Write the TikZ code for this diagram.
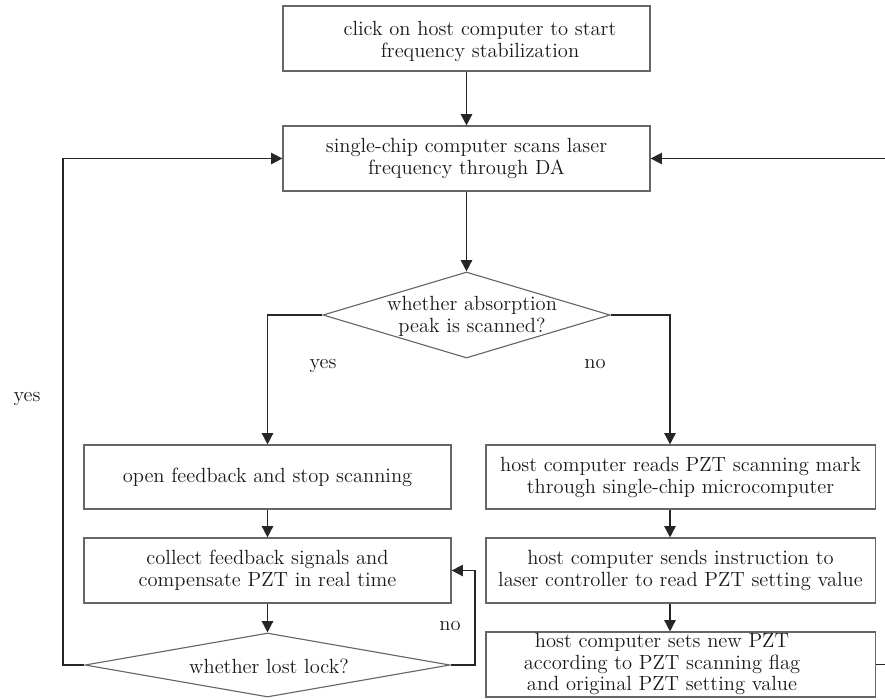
\documentclass[tikz,border=0pt]{standalone}
\usepackage{tikz}
\usetikzlibrary{shapes.geometric,arrows.meta}
\begin{document}
\begin{tikzpicture}[x=0.025cm,y=-0.025cm,
  font=\fontsize{14.6}{15.6}\selectfont,
  >={Triangle[length=8pt,width=8pt]},
  box/.style={draw=black!60,line width=0.8pt,rectangle,inner sep=0pt,align=center,text=black!90},
  decision/.style={draw=black!60,line width=0.8pt,diamond,inner sep=0pt},
  txt/.style={align=center,text=black!90,inner sep=0pt},
  line/.style={draw=black!85,line width=1.1pt}]
\pgfmathsetmacro{\wl}{9.175};
\pgfmathsetmacro{\wr}{9.725};
\pgfmathsetmacro{\hb}{1.625};
\clip (0,0) rectangle (885,699);
\begin{scope}
% boxes
\node[box,minimum width=\wl cm,minimum height=\hb cm] (start) at (466.5,38.5) {};
\node[txt] (starttxt) at (480,41) {click on host computer to start\\frequency stabilization};
\node[box,minimum width=\wl cm,minimum height=\hb cm] (scan) at (466.5,158.5) {single-chip computer scans laser\\frequency through DA};
\node[decision,minimum width=7.175cm,minimum height=2.15cm] (peak) at (466.5,315) {};
\node[txt] (peaktxt) at (472,316) {whether absorption\\peak is scanned?};
\node[box,minimum width=\wl cm,minimum height=1.6cm] (open) at (267.5,477) {open feedback and stop scanning};
\node[box,minimum width=\wl cm,minimum height=\hb cm] (collect) at (267.5,570.5) {collect feedback signals and\\compensate PZT in real time};
\node[decision,minimum width=9.125cm,minimum height=1.6cm] (lock) at (267.5,665) {};
\node[txt] (locktxt) at (269,666) {whether lost lock?};
\node[box,minimum width=\wr cm,minimum height=1.6cm] (reads) at (680.5,477) {host computer reads PZT scanning mark\\through single-chip microcomputer};
\node[box,minimum width=\wr cm,minimum height=\hb cm] (sends) at (680.5,570.5) {host computer sends instruction to\\laser controller to read PZT setting value};
\node[box,minimum width=\wr cm,minimum height=\hb cm] (setnew) at (680.5,664.5) {};
\node[txt] (setnewtxt) at (662,664) {host computer sets new PZT\\according to PZT scanning flag\\and original PZT setting value};
% labels
\node[txt,anchor=base] (yesa) at (323,368) {yes};
\node[txt,anchor=base] (noa) at (595,368) {no};
\node[txt,anchor=base] (yesb) at (27,401) {yes};
\node[txt,anchor=base] (nob) at (450,630) {no};
\coordinate (rcol) at (670,0);
\coordinate (nocol) at (475,0);
\coordinate (yescol) at (63,0);
\coordinate (rimcol) at (888,0);
% connectors
\draw[line,->] (start.south) -- (scan.north);
\draw[line,->] (scan.south) -- (peak.north);
\draw[line,->] (peak.west) -| (open.north);
\draw[line,->] (peak.east) -| (reads.north -| rcol);
\draw[line,->] (reads.south -| rcol) -- (sends.north -| rcol);
\draw[line,->] (sends.south -| rcol) -- (setnew.north -| rcol);
\draw[line,->] (open.south) -- (collect.north);
\draw[line,->] (collect.south) -- (lock.north);
\draw[line,->] (lock.east) -- (lock.east -| nocol) |- (collect.east);
\draw[line,->] (lock.west) -- (lock.west -| yescol) |- (scan.west);
\draw[line,->] (setnew.east) -- (setnew.east -| rimcol) |- (scan.east);
\end{scope}
\end{tikzpicture}
\end{document}
